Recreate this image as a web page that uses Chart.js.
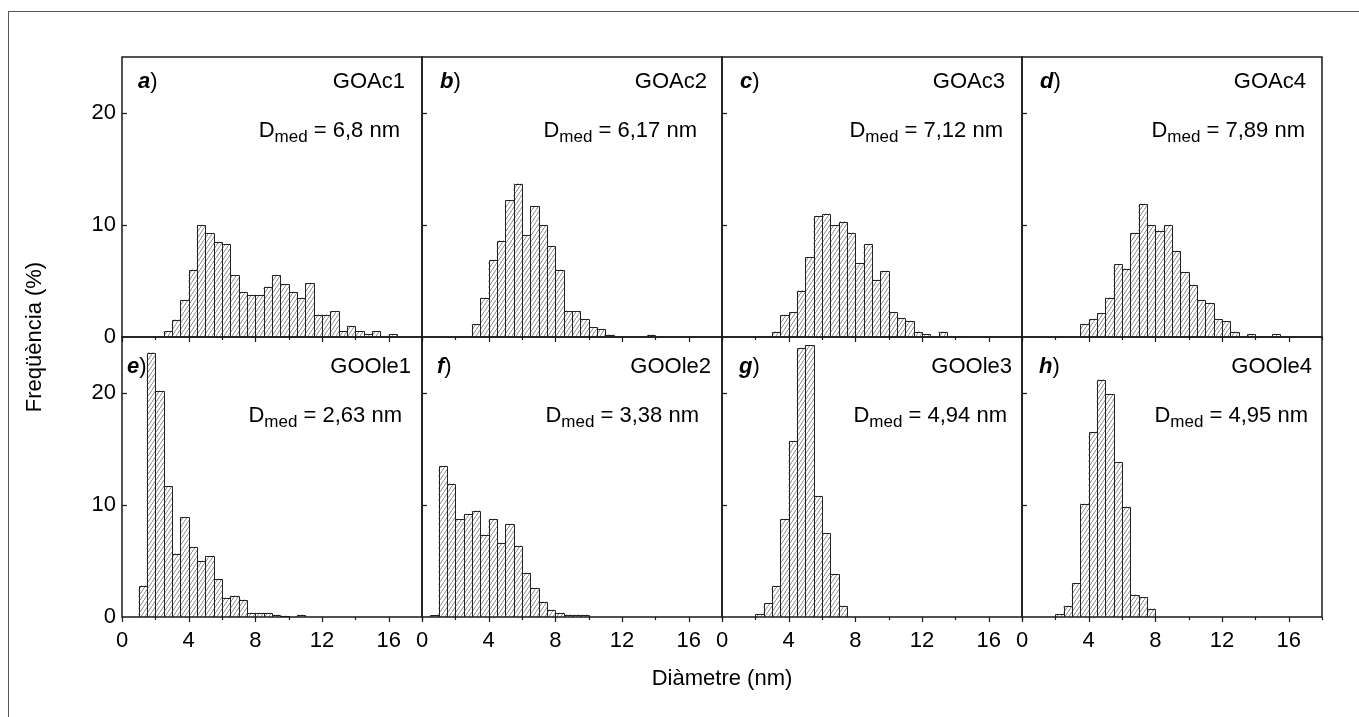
<!DOCTYPE html>
<html>
<head>
<meta charset="utf-8">
<title>Distribució de diàmetres</title>
<script src="https://cdn.jsdelivr.net/npm/chart.js@4.4.1/dist/chart.umd.min.js"></script>
<style>
  html, body { margin: 0; padding: 0; background: #fff; }
  #fig { position: relative; width: 1359px; height: 717px; overflow: hidden; }
  #fig canvas { position: absolute; left: 0; top: 0; }
  #frame { position: absolute; left: 8px; top: 11px; width: 1400px; height: 800px;
           border-left: 1px solid #555; border-top: 1px solid #555; }
</style>
</head>
<body>
<div id="fig"><div id="frame"></div></div>
<script>
// bin centres (bins 0.5 nm wide, 0 - 18 nm)
const binCenters = [0.25, 0.75, 1.25, 1.75, 2.25, 2.75, 3.25, 3.75, 4.25, 4.75, 5.25, 5.75,
  6.25, 6.75, 7.25, 7.75, 8.25, 8.75, 9.25, 9.75, 10.25, 10.75, 11.25, 11.75,
  12.25, 12.75, 13.25, 13.75, 14.25, 14.75, 15.25, 15.75, 16.25, 16.75, 17.25, 17.75];

// frequency (%) per bin
const goAc1 = [0, 0, 0, 0, 0, 0.5, 1.55, 3.3, 6.0, 10.0, 9.25, 8.5, 8.3, 5.5, 4.0, 3.75, 3.75, 4.5,
  5.5, 4.7, 4.0, 3.5, 4.8, 2.0, 2.0, 2.3, 0.5, 1.0, 0.5, 0.25, 0.5, 0, 0.25, 0, 0, 0];
const goAc2 = [0, 0, 0, 0, 0, 0, 1.13, 3.5, 6.9, 8.6, 12.2, 13.7, 9.1, 11.7, 10.0, 8.1, 6.0, 2.3,
  2.3, 1.6, 0.87, 0.7, 0.2, 0, 0, 0, 0, 0.2, 0, 0, 0, 0, 0, 0, 0, 0];
const goAc3 = [0, 0, 0, 0, 0, 0, 0.47, 1.96, 2.2, 4.15, 7.1, 10.8, 11.0, 10.0, 10.3, 9.3, 6.6, 8.3,
  5.1, 5.9, 2.2, 1.7, 1.45, 0.47, 0.24, 0, 0.47, 0, 0, 0, 0, 0, 0, 0, 0, 0];
const goAc4 = [0, 0, 0, 0, 0, 0, 0, 1.16, 1.6, 2.1, 3.5, 6.5, 6.1, 9.3, 11.9, 10.0, 9.5, 10.0,
  7.7, 5.8, 4.65, 3.3, 3.05, 1.6, 1.4, 0.45, 0, 0.24, 0, 0, 0.24, 0, 0, 0, 0, 0];
const goOle1 = [0, 0, 2.8, 23.6, 20.2, 11.7, 5.65, 8.9, 6.25, 5.0, 5.45, 3.4, 1.73, 1.9, 1.55, 0.36, 0.36, 0.36,
  0.2, 0.1, 0, 0.2, 0, 0, 0, 0, 0, 0, 0, 0, 0, 0, 0, 0, 0, 0];
const goOle2 = [0, 0.15, 13.5, 11.9, 8.75, 9.2, 9.5, 7.35, 8.75, 6.6, 8.3, 6.35, 3.95, 2.6, 1.37, 0.65, 0.36, 0.2,
  0.2, 0.2, 0, 0, 0, 0, 0, 0, 0, 0, 0, 0, 0, 0, 0, 0, 0, 0];
const goOle3 = [0, 0, 0, 0, 0.24, 1.25, 2.77, 8.75, 15.7, 24.0, 24.25, 10.8, 7.5, 3.8, 1.0, 0, 0, 0,
  0, 0, 0, 0, 0, 0, 0, 0, 0, 0, 0, 0, 0, 0, 0, 0, 0, 0];
const goOle4 = [0, 0, 0, 0, 0.24, 1.0, 3.0, 10.1, 16.5, 21.2, 19.9, 13.8, 9.85, 2.0, 1.75, 0.75, 0, 0,
  0, 0, 0, 0, 0, 0, 0, 0, 0, 0, 0, 0, 0, 0, 0, 0, 0, 0];

const series = [goAc1, goAc2, goAc3, goAc4, goOle1, goOle2, goOle3, goOle4];
const sampleNames = ["GOAc1", "GOAc2", "GOAc3", "GOAc4", "GOOle1", "GOOle2", "GOOle3", "GOOle4"];
const panelLetters = ["a", "b", "c", "d", "e", "f", "g", "h"];
const meanDiameters = ["6,8", "6,17", "7,12", "7,89", "2,63", "3,38", "4,94", "4,95"];

const xTicks = [0, 4, 8, 12, 16];
const xMinorTicks = [2, 6, 10, 14, 18];
const yTicks = [0, 10, 20];

// layout
const W = 1359, H = 717;
const gridLeft = 122, gridTop = 57, panelW = 300, panelH = 280;
const axisBox = 40;
const letterDx = [16, 18, 18, 18, 5, 15, 17, 17];
const nameRight = [17, 15, 17, 16, 11, 11, 10, 10];
const dRight = [22, 25, 19, 17, 20, 23, 15, 14];
const nameBase = [88, 373];
const dBase = [137, 422];

const FONT = "'Liberation Sans', Arial, Helvetica, sans-serif";

function makeHatch() {
  const c = document.createElement("canvas");
  c.width = 4; c.height = 6;
  const g = c.getContext("2d");
  g.strokeStyle = "#7a7a7a";
  g.lineWidth = 0.9;
  g.beginPath();
  g.moveTo(-4, 12); g.lineTo(8, -6);
  g.stroke();
  return g.createPattern(c, "repeat");
}
const hatch = makeHatch();

const panelDecor = {
  id: "panelDecor",
  afterDatasetsDraw(chart) {
    const ctx = chart.ctx;
    const meta = chart.getDatasetMeta(0);
    const vals = chart.data.datasets[0].data;
    ctx.save();
    ctx.strokeStyle = "#222";
    ctx.lineWidth = 1;
    meta.data.forEach((bar, k) => {
      if (!vals[k].y) return;
      const p = bar.getProps(["x", "y", "base", "width"], true);
      const l = Math.round(p.x - p.width / 2) + 0.5;
      const r = Math.round(p.x + p.width / 2) + 0.5;
      const t = Math.round(p.y) + 0.5;
      const b = Math.round(p.base);
      ctx.beginPath();
      ctx.moveTo(l, b); ctx.lineTo(l, t); ctx.lineTo(r, t); ctx.lineTo(r, b);
      ctx.stroke();
    });
    ctx.restore();
  },
  afterDraw(chart, args, o) {
    const { ctx, chartArea: a, scales } = chart;
    ctx.save();
    // frame
    ctx.strokeStyle = "#1a1a1a";
    ctx.lineWidth = 1.5;
    ctx.strokeRect(a.left, a.top, a.right - a.left, a.bottom - a.top);
    // tick marks
    ctx.lineWidth = 1.2;
    const seg = (x1, y1, x2, y2) => { ctx.beginPath(); ctx.moveTo(x1, y1); ctx.lineTo(x2, y2); ctx.stroke(); };
    xTicks.forEach(v => {
      const px = Math.round(scales.x.getPixelForValue(v)) + 0.5;
      seg(px, a.bottom, px, a.bottom + 5);
    });
    xMinorTicks.forEach(v => {
      const px = Math.round(scales.x.getPixelForValue(v)) + 0.5;
      seg(px, a.bottom, px, a.bottom + 3);
    });
    yTicks.filter(v => v > 0).forEach(v => {
      const py = Math.round(scales.y.getPixelForValue(v)) + 0.5;
      seg(a.left, py, a.left + 5, py);
    });

    // panel texts
    ctx.fillStyle = "#000";
    ctx.textBaseline = "alphabetic";
    ctx.textAlign = "left";
    const big = "22px " + FONT, small = "17px " + FONT;
    let lx = a.left + o.letterDx;
    ctx.font = "italic bold 22px " + FONT;
    ctx.fillText(o.letter, lx, o.nameY);
    lx += ctx.measureText(o.letter).width;
    ctx.font = big;
    ctx.fillText(")", lx, o.nameY);

    ctx.textAlign = "right";
    ctx.fillText(o.name, a.right - o.nameRight, o.nameY);

    ctx.textAlign = "left";
    const rest = " = " + o.dmed + " nm";
    const wD = ctx.measureText("D").width, wRest = ctx.measureText(rest).width;
    ctx.font = small;
    const wSub = ctx.measureText("med").width;
    let sx = a.right - o.dRight - (wD + wSub + wRest);
    ctx.font = big; ctx.fillText("D", sx, o.dY); sx += wD;
    ctx.font = small; ctx.fillText("med", sx, o.dY + 5); sx += wSub;
    ctx.font = big; ctx.fillText(rest, sx, o.dY);
    ctx.restore();
  }
};

const figureTitles = {
  id: "figureTitles",
  afterDraw(chart) {
    const ctx = chart.ctx;
    ctx.save();
    ctx.fillStyle = "#000";
    ctx.font = "22px " + FONT;
    ctx.textAlign = "center";
    ctx.textBaseline = "middle";
    ctx.fillText("Diàmetre (nm)", 722, 679);
    ctx.translate(35, 337);
    ctx.rotate(-Math.PI / 2);
    ctx.fillText("Freqüència (%)", 0, 0);
    ctx.restore();
  }
};

const fig = document.getElementById("fig");

series.forEach((vals, i) => {
  const col = i % 4, row = Math.floor(i / 4);
  const left = gridLeft + col * panelW, top = gridTop + row * panelH;
  const canvas = document.createElement("canvas");
  canvas.width = W; canvas.height = H;
  fig.appendChild(canvas);

  new Chart(canvas, {
    type: "bar",
    data: {
      datasets: [{
        data: binCenters.map((x, k) => ({ x, y: vals[k] })),
        backgroundColor: hatch,
        borderWidth: 0,
        barPercentage: 1,
        categoryPercentage: 1
      }]
    },
    options: {
      responsive: false,
      animation: false,
      events: [],
      layout: {
        padding: {
          left: left - axisBox, top,
          right: W - left - panelW,
          bottom: H - top - panelH - axisBox
        }
      },
      plugins: {
        legend: { display: false },
        tooltip: { enabled: false },
        panelDecor: {
          letter: panelLetters[i], name: sampleNames[i], dmed: meanDiameters[i],
          letterDx: letterDx[i], nameRight: nameRight[i], dRight: dRight[i],
          nameY: nameBase[row], dY: dBase[row]
        }
      },
      scales: {
        x: {
          type: "linear", min: 0, max: 18, offset: false,
          grid: { display: false, drawTicks: false, offset: false },
          border: { display: false },
          afterBuildTicks: s => { s.ticks = xTicks.map(v => ({ value: v })); },
          afterFit: s => { s.height = axisBox; },
          ticks: { display: row === 1, padding: 11, color: "#000", autoSkip: false, maxRotation: 0,
                   font: { family: FONT, size: 22 } }
        },
        y: {
          min: 0, max: 25,
          grid: { display: false, drawTicks: false },
          border: { display: false },
          afterBuildTicks: s => { s.ticks = yTicks.map(v => ({ value: v })); },
          afterFit: s => { s.width = axisBox; },
          ticks: { display: col === 0, padding: 6, color: "#000", font: { family: FONT, size: 22 } }
        }
      }
    },
    plugins: i === 0 ? [panelDecor, figureTitles] : [panelDecor]
  });
});
</script>
</body>
</html>
